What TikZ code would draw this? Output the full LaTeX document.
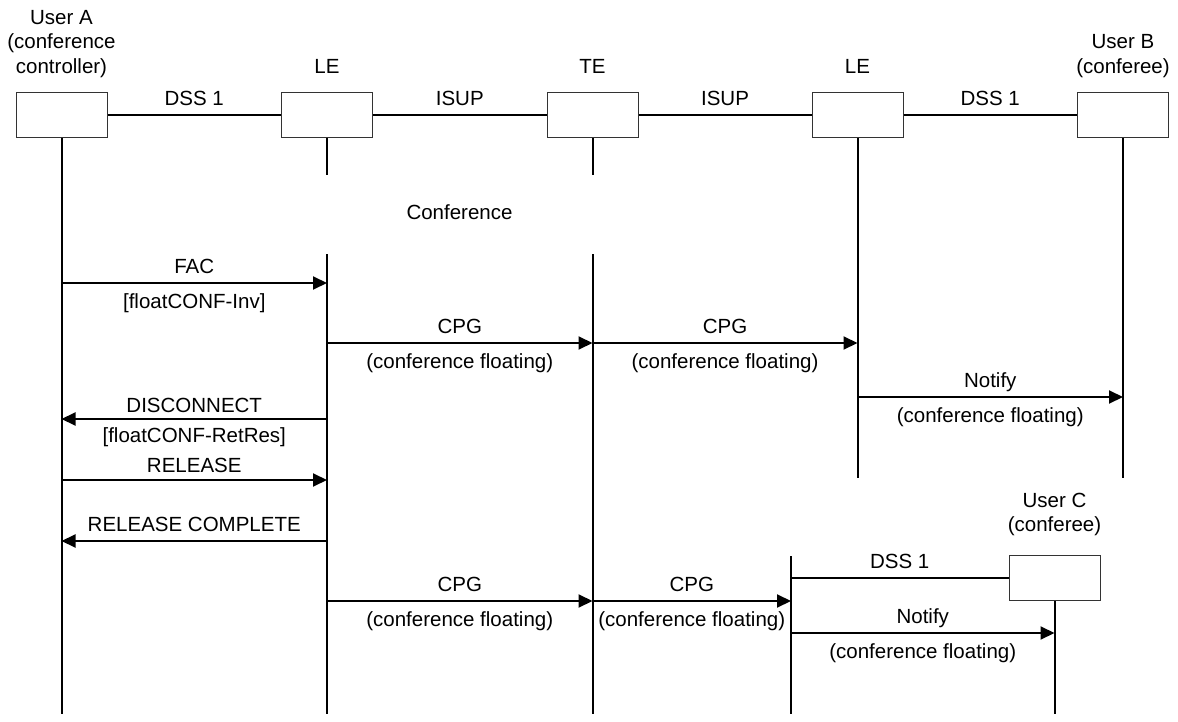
\documentclass[tikz,border=0pt]{standalone}
\usepackage{fontspec}
\setmainfont{Liberation Sans}
\usetikzlibrary{arrows.meta,positioning}

\tikzset{
  ent/.style={draw=black!80, line width=1pt, minimum width=91pt, minimum height=45pt, inner sep=0pt},
  hdr/.style={align=center, inner sep=0pt, text depth=5pt},
  life/.style={line width=2pt},
  link/.style={line width=2pt},
  msg/.style={line width=2pt, -{Triangle[length=14pt,width=13pt]}},
  lab above/.style={anchor=base, yshift=10pt, inner sep=0pt},
  lab below/.style={anchor=base, yshift=-25pt, inner sep=0pt},
}

\begin{document}
\begin{tikzpicture}[x=1pt, y=-1pt, font=\fontsize{20.5}{24.5}\selectfont]
	%%%%% START %%%%%
	\useasboundingbox (0,0) rectangle (1178,722);
	\def\xa{61.5}
	\def\xl{327}
	\def\xt{592.5}
	\def\xr{857.5}
	\def\xb{1123}
	\def\xm{791}
	\def\xc{1054.5}
	\def\ytop{115.5}
	\def\ystub{175}
	\def\yres{254}
	\def\ymid{478}
	\def\ybot{714}

	% entities
	\node[ent] (A) at (\xa,\ytop) {};
	\node[ent] (LEa) at (\xl,\ytop) {};
	\node[ent] (TE) at (\xt,\ytop) {};
	\node[ent] (LEb) at (\xr,\ytop) {};
	\node[ent] (B) at (\xb,\ytop) {};
	\node[ent] (C) at (\xc,578) {};

	\node[hdr, above=14pt of A] (A-h) {User A\\(conference\\controller)};
	\node[hdr, above=14pt of LEa] (LEa-h) {LE};
	\node[hdr, above=14pt of TE] (TE-h) {TE};
	\node[hdr, above=14pt of LEb] (LEb-h) {LE};
	\node[hdr, above=14pt of B] (B-h) {User B\\(conferee)};
	\node[hdr, above=18pt of C] (C-h) {User C\\(conferee)};

	% links between entities
	\draw[link] (A) -- node[lab above] {DSS 1} (LEa);
	\draw[link] (LEa) -- node[lab above] {ISUP} (TE);
	\draw[link] (TE) -- node[lab above] {ISUP} (LEb);
	\draw[link] (LEb) -- node[lab above] {DSS 1} (B);

	% lifelines
	\coordinate (A-end) at (\xa,\ybot);
	\coordinate (LEa-stub) at (\xl,\ystub);
	\coordinate (LEa-top) at (\xl,\yres);
	\coordinate (LEa-end) at (\xl,\ybot);
	\coordinate (TE-stub) at (\xt,\ystub);
	\coordinate (TE-top) at (\xt,\yres);
	\coordinate (TE-end) at (\xt,\ybot);
	\coordinate (LEb-end) at (\xr,\ymid);
	\coordinate (B-end) at (\xb,\ymid);
	\coordinate (LEc-top) at (\xm,556);
	\coordinate (LEc-end) at (\xm,\ybot);
	\coordinate (C-end) at (\xc,\ybot);

	\draw[life] (A.south) -- (A-end);
	\draw[life] (LEa.south) -- (LEa-stub);
	\draw[life] (LEa-top) -- (LEa-end);
	\draw[life] (TE.south) -- (TE-stub);
	\draw[life] (TE-top) -- (TE-end);
	\draw[life] (LEb.south) -- (LEb-end);
	\draw[life] (B.south) -- (B-end);
	\draw[life] (LEc-top) -- (LEc-end);
	\draw[life] (C.south) -- (C-end);

	\node (conf) at (459.5,212) {Conference};

	% messages
	\draw[msg] (A |- 0,283) -- node[lab above] {FAC} node[lab below] {[floatCONF-Inv]} (LEa |- 0,283);
	\draw[msg] (LEa |- 0,343) -- node[lab above] {CPG} node[lab below] {(conference floating)} (TE |- 0,343);
	\draw[msg] (TE |- 0,343) -- node[lab above] {CPG} node[lab below] {(conference floating)} (LEb |- 0,343);
	\draw[msg] (LEb |- 0,397) -- node[lab above] {Notify} node[lab below] {(conference floating)} (B |- 0,397);
	\draw[msg] (LEa |- 0,419) -- node[lab above, yshift=-3pt] {DISCONNECT} node[lab below, yshift=2pt] {[floatCONF-RetRes]} (A |- 0,419);
	\draw[msg] (A |- 0,480) -- node[lab above, yshift=-2pt] {RELEASE} (LEa |- 0,480);
	\draw[msg] (LEa |- 0,541) -- node[lab above] {RELEASE COMPLETE} (A |- 0,541);
	\draw[msg] (LEa |- 0,601) -- node[lab above] {CPG} node[lab below] {(conference floating)} (TE |- 0,601);
	\draw[msg] (TE |- 0,601) -- node[lab above] {CPG} node[lab below] {(conference floating)} (LEc-top |- 0,601);
	\draw[link] (LEc-top |- C.west) -- node[lab above] {DSS 1} (C.west);
	\draw[msg] (LEc-top |- 0,633) -- node[lab above] {Notify} node[lab below] {(conference floating)} (C |- 0,633);
	%%%%% END %%%%%
\end{tikzpicture}
\end{document}
